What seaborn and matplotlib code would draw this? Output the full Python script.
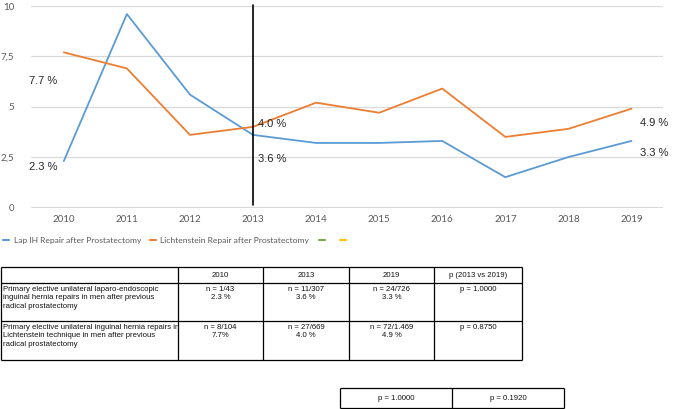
import numpy as np
import pandas as pd
import seaborn as sns
import matplotlib.pyplot as plt
from matplotlib.lines import Line2D

# ---------------------------------------------#
# Data
# ---------------------------------------------#

years = [2010, 2011, 2012, 2013, 2014, 2015, 2016, 2017, 2018, 2019]
lap_ih = [2.3, 9.6, 5.6, 3.6, 3.2, 3.2, 3.3, 1.5, 2.5, 3.3]
lichtenstein = [7.7, 6.9, 3.6, 4.0, 5.2, 4.7, 5.9, 3.5, 3.9, 4.9]
series_names = ["Lap IH Repair after Prostatectomy",
                "Lichtenstein Repair after Prostatectomy", " ", "  "]
y_ticks = [0, 2.5, 5, 7.5, 10]
y_tick_labels = ["0", "2,5", "5", "7,5", "10"]
marker_year = 2013
label_years = [2010, 2013, 2019]

table_header = ["", "2010", "2013", "2019", "p (2013 vs 2019)"]
row_labels = [
    "Primary elective unilateral laparo-endoscopic\ninguinal hernia repairs in men after previous\nradical prostatectomy",
    "Primary elective unilateral inguinal hernia repairs in\nLichtenstein technique in men after previous\nradical prostatectomy",
]
lap_cells = ["n = 1/43\n2.3 %", "n = 11/307\n3.6 %", "n = 24/726\n3.3 %", "p = 1.0000"]
lich_cells = ["n = 8/104\n7.7%", "n = 27/669\n4.0 %", "n = 72/1.469\n4.9 %", "p = 0.8750"]
extra_p = ["p = 1.0000", "p = 0.1920"]

colors = ["#5B9BD5", "#ED7D31", "#70AD47", "#FFC000"]

df = pd.DataFrame({
    "year": years * 2,
    "value": lap_ih + lichtenstein,
    "series": [series_names[0]] * len(years) + [series_names[1]] * len(years),
})

# ---------------------------------------------#
# Figure
# ---------------------------------------------#

sns.set_style("white")
plt.rcParams["font.family"] = ["Lato", "DejaVu Sans"]

fig = plt.figure(figsize=(6.77, 4.09), dpi=100)
W, H = 677, 409
ax = fig.add_axes([31 / W, (H - 208) / H, 632 / W, 202 / H])

sns.lineplot(data=df, x="year", y="value", hue="series",
             palette=colors[:2], linewidth=1.3, legend=False, ax=ax)

ax.set_xlim(2009.48, 2019.5)
ax.set_ylim(-0.03, 10)
ax.set_xticks(years)
ax.set_xticklabels([str(y) for y in years])
ax.set_yticks(y_ticks)
ax.set_yticklabels(y_tick_labels)
ax.set_xlabel("")
ax.set_ylabel("")
ax.grid(axis="y", color="#d9d9d9", linewidth=0.9)
ax.grid(axis="x", visible=False)
ax.set_axisbelow(True)
for s in ax.spines.values():
    s.set_visible(False)
ax.tick_params(axis="both", length=0, labelsize=7, labelcolor="#595959")
ax.tick_params(axis="x", pad=5)
ax.tick_params(axis="y", pad=12)

ax.axvline(marker_year, ymin=0.015, ymax=1.005, color="black", linewidth=1.2, clip_on=False)

# value labels (offsets in pixels)
offsets = {
    (0, 2010): (-35, -5.5), (1, 2010): (-35, -28.5),
    (0, 2013): (5, -24.5), (1, 2013): (5, 3),
    (0, 2019): (9, -12), (1, 2019): (9, -14),
}
for si, vals in enumerate([lap_ih, lichtenstein]):
    for yr in label_years:
        v = vals[years.index(yr)]
        ax.annotate(f"{v:.1f} %", xy=(yr, v), xytext=offsets[(si, yr)],
                    textcoords="offset pixels", ha="left", va="center",
                    fontsize=8, family=["Liberation Sans", "DejaVu Sans"])

handles = [Line2D([0], [0], color=c, linewidth=1.5) for c in colors]
leg = fig.legend(handles, series_names, loc="center left",
                 bbox_to_anchor=(0.0, (H - 240) / H), ncol=4, frameon=False,
                 prop={"size": 6.1}, handlelength=0.7, handletextpad=0.5,
                 columnspacing=1.1, borderaxespad=0)
for t in leg.get_texts():
    t.set_color("#595959")

# ---------------------------------------------#
# Table
# ---------------------------------------------#

tx = fig.add_axes([0, 0, 1, 1], zorder=-1)
tx.set_xlim(0, W)
tx.set_ylim(H, 0)
tx.axis("off")

col_x = [1, 178, 263, 349, 434, 522]
row_y = [267, 283, 321, 360]
tfont = dict(fontsize=5.6, family=["Liberation Sans", "DejaVu Sans"], color="#111111")

tx.hlines(row_y, col_x[0], col_x[-1], color="black", linewidth=0.9)
tx.vlines(col_x, row_y[0], row_y[-1], color="black", linewidth=0.9)

for i, h in enumerate(table_header):
    tx.text((col_x[i] + col_x[i + 1]) / 2, (row_y[0] + row_y[1]) / 2 + 0.5, h,
            ha="center", va="center", **tfont)

for r, (lab, cells) in enumerate(zip(row_labels, [lap_cells, lich_cells])):
    top = row_y[r + 1] + 3
    tx.text(col_x[0] + 2, top, lab, ha="left", va="top", linespacing=1.25, **tfont)
    for c, txt in enumerate(cells):
        tx.text((col_x[c + 1] + col_x[c + 2]) / 2, top, txt, ha="center", va="top",
                linespacing=1.25, **tfont)

px = [340, 452, 564]
py = [388, 408]
tx.hlines(py, px[0], px[-1], color="black", linewidth=0.9)
tx.vlines(px, py[0], py[1], color="black", linewidth=0.9)
for i, txt in enumerate(extra_p):
    tx.text((px[i] + px[i + 1]) / 2, (py[0] + py[1]) / 2, txt,
            ha="center", va="center", **tfont)

fig.savefig("out.png", dpi=100)
